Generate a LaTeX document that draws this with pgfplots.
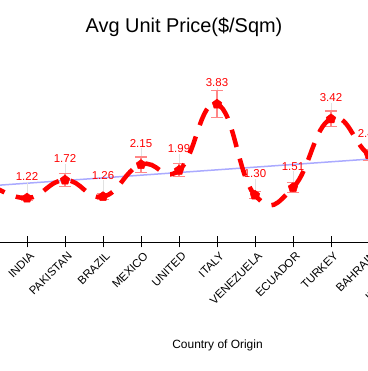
\documentclass[border=0pt]{standalone}
\usepackage{fontspec}
\setmainfont{Liberation Sans}
\usepackage{pgfplots}
\usepackage{pgfplotstable}
\pgfplotsset{compat=1.18}
\definecolor{trend}{RGB}{170,170,255}
\definecolor{errc}{RGB}{255,135,135}
\definecolor{leadc}{RGB}{225,225,225}
\pgfplotstableread{
i v err lead
0 1.63 0.10 0.45
1 1.22 0.06 0.45
2 1.72 0.18 0.45
3 1.26 0.08 0.45
4 2.15 0.21 0.45
5 1.99 0.18 0.45
6 3.83 0.38 0.45
7 1.30 0.10 0.45
8 1.51 0.14 0.45
9 3.42 0.22 0.45
10 2.42 0.15 0.45
11 1.80 0.12 0.45
}\data
\pgfplotstableread{
i v
-1 1.484
12 2.451
}\trendtab
\begin{document}
\begin{tikzpicture}[x=1bp,y=1bp]
\useasboundingbox (0,0) rectangle (368,371);
\clip (0,0) rectangle (368,371);
\begin{axis}[
  scale only axis, width=456bp, height=180bp,
  at={(-30bp,129bp)}, anchor=south west,
  xmin=-0.5, xmax=11.5, ymin=0, ymax=5,
  axis x line*=bottom, axis y line=none,
  clip=false,
  xtick={0,...,11},
  xticklabels={CHINA,INDIA,PAKISTAN,BRAZIL,MEXICO,UNITED,ITALY,VENEZUELA,ECUADOR,TURKEY,BAHRAIN,INDONESIA},
  xticklabel style={rotate=45, anchor=north east, font=\fontsize{11.5}{13}\selectfont, inner sep=1bp, yshift=-3bp},
  tick align=center, major tick length=11bp,
  tick style={black, line width=0.8bp},
  axis line style={black, line width=0.8bp},
  title={Avg Unit Price(\$/Sqm)},
  title style={at={(axis description cs:0.4693,1.128)}, anchor=base, font=\fontsize{20}{24}\selectfont},
  xlabel={Country of Origin},
  xlabel style={at={(axis description cs:0.5428,-0.5944)}, anchor=base, font=\fontsize{12}{14}\selectfont},
  /pgf/number format/.cd, fixed, fixed zerofill, precision=2, assume math mode=true,
]
\addplot[trend, line width=1.5bp, no marks] table[x=i,y=v]{\trendtab};
\addplot[color=leadc, only marks, mark=none, forget plot,
  error bars/.cd, y dir=plus, y explicit, error mark=none,
  error bar style={color=leadc, line width=0.6bp}]
  table[x=i,y=v,y error=lead]{\data};
\addplot[color=errc, only marks, mark=none, forget plot,
  error bars/.cd, y dir=both, y explicit,
  error bar style={color=errc, line width=1.1bp},
  error mark options={rotate=90, mark size=6bp, color=errc, line width=1.1bp}]
  table[x=i,y=v,y error=err]{\data};
\addplot[red, line width=4.5bp, smooth, tension=0.8, dash pattern=on 18bp off 12bp,
  mark=pentagon*, mark size=5bp, mark options={solid, line width=0.5bp, fill=red},
  nodes near coords,
  every node near coord/.append style={red, font=\fontsize{11.5}{13}\selectfont, inner sep=0pt, anchor=south, yshift=17bp}]
  table[x=i,y=v]{\data};
\end{axis}
\end{tikzpicture}
\end{document}
